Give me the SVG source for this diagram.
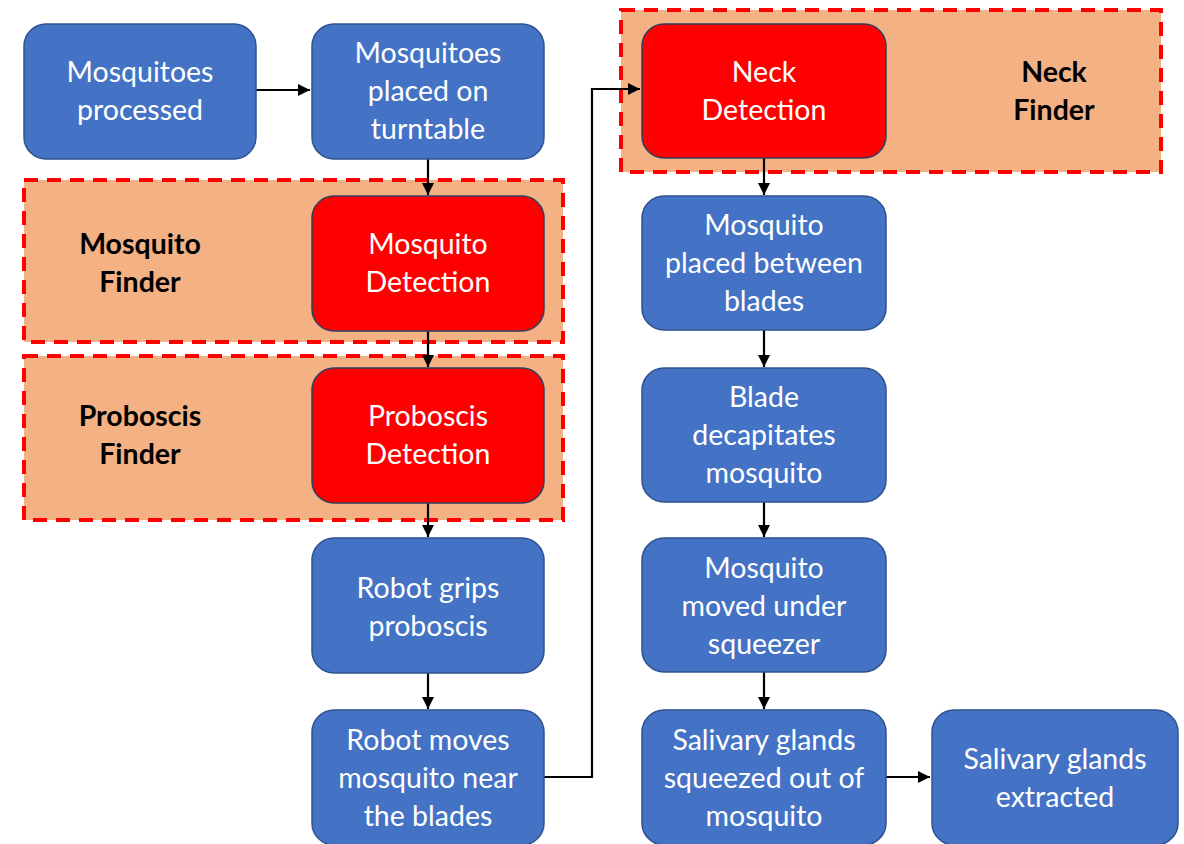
<svg xmlns="http://www.w3.org/2000/svg" width="1184" height="844" viewBox="0 0 1184 844">
<defs>
<style>
.blue{fill:#4472C4;stroke:#2F528F;stroke-width:1.5}
.red{fill:#FF0000;stroke:#2F3F5F;stroke-width:1.5}
.grp{fill:#F4B183;stroke:#FF0000;stroke-width:4;stroke-dasharray:14 9}
.t{font-family:Lato,"Liberation Sans",sans-serif;font-size:28.5px;fill:#fff;text-anchor:middle}
.b{font-family:Lato,"Liberation Sans",sans-serif;font-size:28.5px;font-weight:bold;fill:#000;text-anchor:middle}
.c{fill:none;stroke:#000;stroke-width:2.2}
</style>
<marker id="ah" viewBox="0 0 10 10" refX="10" refY="5" markerWidth="5.5" markerHeight="5.5" orient="auto" markerUnits="strokeWidth">
<path d="M0,0 L10,5 L0,10 z" fill="#000"/>
</marker>
</defs>
<rect width="1184" height="844" fill="#fff"/>
<g id="group-mosquito-finder"><rect class="grp" x="24" y="180" width="539" height="162"/><text class="b" x="140" y="254">Mosquito</text><text class="b" x="140" y="292">Finder</text></g>
<g id="group-proboscis-finder"><rect class="grp" x="24" y="356" width="539" height="164"/><text class="b" x="140" y="426">Proboscis</text><text class="b" x="140" y="464">Finder</text></g>
<g id="group-neck-finder"><rect class="grp" x="621" y="10" width="540" height="162"/><text class="b" x="1054" y="82">Neck</text><text class="b" x="1054" y="120">Finder</text></g>
<g id="connectors">
<path class="c" d="M256,90 H310" marker-end="url(#ah)"/>
<path class="c" d="M428,159 V195" marker-end="url(#ah)"/>
<path class="c" d="M428,331 V367" marker-end="url(#ah)"/>
<path class="c" d="M428,503 V537" marker-end="url(#ah)"/>
<path class="c" d="M428,673 V709" marker-end="url(#ah)"/>
<path class="c" d="M544,777 H592 V89 H640" marker-end="url(#ah)"/>
<path class="c" d="M764,158 V195" marker-end="url(#ah)"/>
<path class="c" d="M764,330 V367" marker-end="url(#ah)"/>
<path class="c" d="M764,502 V537" marker-end="url(#ah)"/>
<path class="c" d="M764,672 V709" marker-end="url(#ah)"/>
<path class="c" d="M886,777 H930" marker-end="url(#ah)"/>
</g>
<g id="n1"><rect class="blue" x="24" y="24" width="232" height="135" rx="22"/><text class="t" x="140" y="82">Mosquitoes</text><text class="t" x="140" y="120">processed</text></g>
<g id="n2"><rect class="blue" x="312" y="24" width="232" height="135" rx="22"/><text class="t" x="428" y="63">Mosquitoes</text><text class="t" x="428" y="101">placed on</text><text class="t" x="428" y="139">turntable</text></g>
<g id="n3"><rect class="red" x="312" y="196" width="232" height="135" rx="22"/><text class="t" x="428" y="254">Mosquito</text><text class="t" x="428" y="292">Detection</text></g>
<g id="n4"><rect class="red" x="312" y="368" width="232" height="135" rx="22"/><text class="t" x="428" y="426">Proboscis</text><text class="t" x="428" y="464">Detection</text></g>
<g id="n5"><rect class="blue" x="312" y="538" width="232" height="135" rx="22"/><text class="t" x="428" y="598">Robot grips</text><text class="t" x="428" y="636">proboscis</text></g>
<g id="n6"><rect class="blue" x="312" y="710" width="232" height="135" rx="22"/><text class="t" x="428" y="750">Robot moves</text><text class="t" x="428" y="788">mosquito near</text><text class="t" x="428" y="826">the blades</text></g>
<g id="n7"><rect class="red" x="642" y="24" width="244" height="134" rx="22"/><text class="t" x="764" y="82">Neck</text><text class="t" x="764" y="120">Detection</text></g>
<g id="n8"><rect class="blue" x="642" y="196" width="244" height="134" rx="22"/><text class="t" x="764" y="235">Mosquito</text><text class="t" x="764" y="273">placed between</text><text class="t" x="764" y="311">blades</text></g>
<g id="n9"><rect class="blue" x="642" y="368" width="244" height="134" rx="22"/><text class="t" x="764" y="407">Blade</text><text class="t" x="764" y="445">decapitates</text><text class="t" x="764" y="483">mosquito</text></g>
<g id="n10"><rect class="blue" x="642" y="538" width="244" height="134" rx="22"/><text class="t" x="764" y="578">Mosquito</text><text class="t" x="764" y="616">moved under</text><text class="t" x="764" y="654">squeezer</text></g>
<g id="n11"><rect class="blue" x="642" y="710" width="244" height="135" rx="22"/><text class="t" x="764" y="750">Salivary glands</text><text class="t" x="764" y="788">squeezed out of</text><text class="t" x="764" y="826">mosquito</text></g>
<g id="n12"><rect class="blue" x="932" y="710" width="246" height="135" rx="22"/><text class="t" x="1055" y="769">Salivary glands</text><text class="t" x="1055" y="807">extracted</text></g>
</svg>
